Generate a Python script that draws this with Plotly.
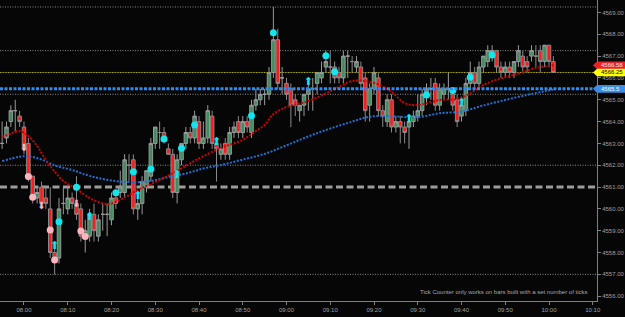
import pandas as pd
import plotly.graph_objects as go

DAY = "2024-01-02 "
first_bar = DAY + "07:55"

opens = [4563.0,4563.25,4564.0,4564.5,4564.25,4563.75,4563.0,4561.5,4560.5,4561.0,
         4560.5,4560.0,4558.0,4557.75,4560.25,4560.0,4560.5,4560.25,4560.0,4558.75,
         4558.75,4559.75,4558.75,4559.75,4559.75,4559.5,4560.5,4560.75,4560.75,4562.0,
         4562.25,4560.0,4560.25,4561.0,4561.5,4563.0,4563.5,4563.5,4562.75,4562.5,
         4560.75,4562.25,4563.0,4563.5,4563.25,4564.0,4563.0,4563.25,4564.25,4563.0,
         4562.5,4563.0,4562.5,4563.5,4564.0,4563.5,4564.0,4563.5,4564.75,4565.0,
         4565.25,4565.25,4566.25,4567.75,4566.0,4565.75,4565.5,4565.0,4564.5,4564.75,
         4565.25,4565.5,4565.75,4566.0,4566.5,4566.5,4566.5,4566.25,4566.0,4567.0,
         4566.75,4566.5,4566.5,4566.0,4564.75,4565.5,4566.0,4564.5,4564.0,4565.0,
         4563.75,4564.0,4563.75,4563.75,4564.0,4564.25,4564.5,4565.25,4565.5,4565.75,
         4564.75,4565.25,4565.5,4565.25,4565.0,4564.25,4564.5,4565.75,4566.25,4565.75,
         4566.5,4566.75,4567.0,4567.25,4566.5,4566.25,4566.5,4566.25,4566.75,4567.0,
         4566.75,4567.0,4567.0,4567.25,4566.75,4567.5,4566.75]
highs = [4564.0,4564.0,4564.75,4565.0,4564.5,4564.0,4563.25,4561.5,4561.0,4561.25,
         4561.0,4561.0,4558.25,4560.5,4561.0,4561.0,4560.75,4561.5,4560.25,4559.5,
         4560.0,4560.25,4559.75,4560.25,4560.25,4560.75,4560.75,4561.75,4562.5,4562.5,
         4562.5,4560.75,4561.5,4561.75,4563.25,4563.75,4564.0,4563.75,4563.0,4562.75,
         4562.5,4563.0,4563.75,4563.75,4564.5,4564.25,4564.0,4564.75,4564.5,4563.25,
         4563.0,4563.25,4563.75,4564.0,4564.25,4564.25,4564.25,4565.0,4565.5,4565.5,
         4565.5,4566.5,4569.25,4568.25,4566.5,4566.0,4565.75,4565.25,4564.75,4565.25,
         4565.75,4566.0,4566.25,4566.75,4567.25,4567.25,4566.75,4566.5,4567.25,4567.25,
         4567.0,4567.0,4566.75,4566.25,4565.75,4566.5,4566.25,4564.75,4565.25,4565.25,
         4564.25,4564.25,4564.0,4564.25,4564.5,4565.25,4565.5,4565.75,4566.0,4566.0,
         4565.75,4565.75,4566.25,4565.5,4565.25,4565.0,4566.0,4566.75,4566.5,4566.75,
         4567.0,4567.5,4567.5,4567.25,4566.75,4566.75,4566.75,4566.75,4567.5,4567.25,
         4567.0,4567.5,4567.5,4567.5,4567.5,4567.5,4567.0]
lows = [4562.75,4563.0,4563.75,4563.5,4563.75,4562.5,4561.25,4560.25,4560.25,4560.0,
        4560.0,4557.75,4557.0,4557.5,4559.75,4559.75,4560.0,4559.5,4558.5,4558.0,
        4558.5,4558.5,4558.5,4559.0,4558.75,4559.25,4560.0,4560.5,4560.5,4561.25,
        4559.75,4559.5,4559.75,4560.75,4561.25,4562.75,4562.75,4563.0,4562.5,4560.5,
        4560.25,4562.0,4562.75,4563.0,4563.0,4562.75,4562.75,4563.0,4562.75,4561.25,
        4562.25,4562.25,4562.25,4563.25,4563.25,4563.25,4563.5,4563.25,4564.5,4564.75,
        4564.75,4565.0,4566.0,4565.5,4565.25,4565.0,4563.75,4564.25,4564.0,4564.25,
        4564.5,4564.5,4565.25,4565.75,4566.25,4565.75,4565.75,4565.75,4565.75,4566.0,
        4566.25,4566.25,4565.5,4564.0,4564.0,4565.25,4564.25,4563.75,4563.75,4563.5,
        4563.5,4563.0,4563.0,4562.75,4563.75,4564.0,4564.25,4564.75,4565.0,4564.5,
        4564.5,4565.0,4565.0,4564.5,4563.75,4564.0,4564.25,4565.5,4565.5,4565.5,
        4566.25,4566.5,4566.75,4566.25,4566.0,4566.0,4566.0,4566.0,4566.5,4566.25,
        4566.25,4566.75,4566.5,4566.25,4566.5,4566.5,4566.25]
closes = [4563.0,4563.75,4564.5,4564.5,4564.0,4562.75,4561.5,4560.5,4560.75,4560.25,
          4560.25,4558.0,4557.75,4560.0,4560.25,4560.5,4560.25,4559.75,4558.75,4559.0,
          4559.75,4559.0,4559.5,4559.75,4559.75,4560.5,4560.25,4561.0,4562.25,4562.0,
          4560.0,4560.25,4561.25,4561.75,4563.0,4563.75,4563.5,4563.25,4562.5,4560.75,
          4562.25,4563.0,4563.5,4563.25,4564.25,4563.0,4563.25,4564.5,4563.0,4562.75,
          4562.75,4562.5,4563.5,4563.75,4563.5,4564.0,4563.75,4564.75,4565.0,4565.25,
          4565.25,4566.25,4567.75,4565.75,4566.0,4565.25,4564.75,4564.75,4564.75,4565.25,
          4565.5,4565.5,4566.25,4566.25,4566.75,4566.5,4566.0,4566.0,4567.0,4567.0,
          4566.75,4566.75,4565.75,4564.5,4565.5,4566.25,4564.5,4564.25,4565.0,4563.75,
          4564.0,4563.75,4563.5,4564.0,4564.25,4564.5,4565.25,4565.5,4565.5,4564.75,
          4565.5,4565.5,4565.5,4564.75,4564.0,4564.75,4565.75,4566.25,4565.75,4566.5,
          4567.0,4567.25,4567.25,4566.5,4566.25,4566.5,4566.25,4566.75,4567.25,4566.5,
          4566.5,4567.25,4567.0,4566.75,4567.5,4566.75,4566.25]

# moving averages
red_ma_times = ["07:55","07:57","07:59","08:01","08:03","08:05","08:07","08:09","08:12","08:15",
                "08:18","08:20","08:23","08:26","08:30","08:35","08:40","08:45","08:50","08:53",
                "08:55","08:57","09:00","09:05","09:10","09:15","09:18","09:21","09:24","09:27",
                "09:30","09:35","09:39","09:42","09:45","09:49","09:53","09:57","10:01"]
red_ma_vals = [4563.29,4563.45,4563.56,4563.34,4562.88,4562.24,4561.71,4561.28,4560.91,4560.50,
               4560.25,4560.25,4560.52,4560.87,4561.23,4561.74,4562.31,4562.79,4563.16,4563.57,
               4563.84,4564.35,4564.67,4564.94,4565.38,4565.86,4565.86,4565.70,4565.36,4564.85,
               4564.76,4564.99,4565.04,4565.29,4565.68,4565.98,4566.20,4566.46,4566.58]
blue_ma_times = ["07:55","07:59","08:01","08:04","08:07","08:11","08:15","08:20","08:25","08:29",
                 "08:33","08:37","08:41","08:45","08:50","08:55","09:00","09:05","09:10","09:15",
                 "09:18","09:21","09:25","09:30","09:35","09:40","09:45","09:50","09:55","09:59","10:01"]
blue_ma_vals = [4562.19,4562.39,4562.41,4562.26,4561.99,4561.78,4561.51,4561.30,4561.22,4561.28,
                4561.46,4561.62,4561.85,4562.01,4562.26,4562.52,4562.91,4563.32,4563.68,4564.00,
                4564.18,4564.26,4564.23,4564.20,4564.38,4564.46,4564.74,4564.99,4565.22,4565.39,4565.47]

cyan_dot_times = ["08:08","08:12","08:21","08:25","08:29","08:32","08:36","08:39","08:52","08:57",
                  "09:09","09:11","09:32","09:38","09:42","09:47"]
cyan_dot_vals = [4559.41,4560.99,4560.74,4561.70,4561.83,4563.20,4562.78,4563.84,4564.27,4568.07,
                 4567.02,4566.28,4565.22,4565.42,4566.03,4567.05]
pink_dot_times = ["08:01","08:02","08:06","08:07","08:13","08:14"]
pink_dot_vals = [4561.48,4560.53,4559.03,4557.66,4558.99,4558.73]
up_arrow_times = ["08:07","08:15","08:26","08:35","08:44","09:05","09:28","09:40"]
up_arrow_vals = [4558.30,4559.60,4560.56,4561.55,4563.04,4565.81,4564.11,4564.84]
down_arrow_times = ["08:00","08:04","08:12"]
down_arrow_vals = [4562.78,4560.10,4560.18]

gray_dotted_levels = [4569.25, 4567.25, 4565.25, 4562.0, 4557.0]
dashed_level = 4561.0
yellow_level = 4566.25
blue_level = 4565.5
tags = [("4566.58", 4566.58, "#e8232a", "#ffe8e8"),
        ("4566.25", 4566.25, "#ffff00", "#000000"),
        ("4565.5", 4565.5, "#3a8ee6", "#ffffff")]
note = "Tick Counter only works on bars built with a set number of ticks"

bar_times = pd.date_range(first_bar, periods=len(opens), freq="min")
T = lambda lst: [pd.Timestamp(DAY + t) for t in lst]

fig = go.Figure()
fig.add_trace(go.Candlestick(
    x=bar_times, open=opens, high=highs, low=lows, close=closes,
    increasing=dict(fillcolor="#3f8c5e", line=dict(color="#9a9a9a", width=1)),
    decreasing=dict(fillcolor="#ff1a1a", line=dict(color="#8a8a8a", width=1)),
    whiskerwidth=0, hoverinfo="skip", showlegend=False))
fig.add_trace(go.Scatter(x=T(blue_ma_times), y=blue_ma_vals, mode="lines",
    line=dict(color="#1f6fd6", width=2, dash="2px,1.5px", shape="spline"), showlegend=False))
fig.add_trace(go.Scatter(x=T(red_ma_times), y=red_ma_vals, mode="lines",
    line=dict(color="#d00000", width=2, dash="2px,1.5px", shape="spline"), showlegend=False))
fig.add_trace(go.Scatter(x=T(cyan_dot_times), y=cyan_dot_vals, mode="markers",
    marker=dict(color="#12e6ec", size=7, line=dict(width=0)), showlegend=False))
fig.add_trace(go.Scatter(x=T(pink_dot_times), y=pink_dot_vals, mode="markers",
    marker=dict(color="#ffb3bf", size=7, line=dict(width=0)), showlegend=False))
fig.add_trace(go.Scatter(x=T(up_arrow_times), y=up_arrow_vals, mode="text", text=["⬆"] * len(up_arrow_vals),
    textposition="middle center", textfont=dict(color="#12e6ec", size=11, family="DejaVu Sans"), showlegend=False))
fig.add_trace(go.Scatter(x=T(down_arrow_times), y=down_arrow_vals, mode="text", text=["⬇"] * len(down_arrow_vals),
    textposition="middle center", textfont=dict(color="#ffb3bf", size=10, family="DejaVu Sans"), showlegend=False))

shapes = []
for lv in gray_dotted_levels:
    shapes.append(dict(type="line", xref="paper", x0=0, x1=1, yref="y", y0=lv, y1=lv,
                       line=dict(color="#8a8a8a", width=1, dash="1px,1.5px"), layer="below"))
shapes.append(dict(type="line", xref="paper", x0=0, x1=1, yref="y", y0=dashed_level, y1=dashed_level,
                   line=dict(color="#9c9c9c", width=3, dash="7px,3.5px"), layer="below"))
shapes.append(dict(type="line", xref="paper", x0=0, x1=1, yref="y", y0=yellow_level, y1=yellow_level,
                   line=dict(color="#b5b300", width=1, dash="1px,0.6px"), layer="below"))
shapes.append(dict(type="line", xref="paper", x0=0, x1=1, yref="y", y0=blue_level, y1=blue_level,
                   line=dict(color="#2a8cf5", width=3, dash="3px,1.5px"), layer="above"))
annotations = []
for txt, val, bg, fg in tags:
    shapes.append(dict(type="path", xref="paper", xsizemode="pixel", xanchor=1,
                       yref="y", ysizemode="pixel", yanchor=val,
                       path="M -4 0 L 0 3.8 L 28 3.8 L 28 -3.8 L 0 -3.8 Z",
                       fillcolor=bg, line=dict(width=0), layer="above"))
    annotations.append(dict(xref="paper", x=1, xanchor="left", xshift=2, yref="y", y=val,
                            yanchor="middle", text=txt, showarrow=False,
                            font=dict(size=6, color=fg, family="Liberation Sans")))
annotations.append(dict(xref="paper", x=590 / 597, xanchor="right", yref="paper", y=0.03,
                        yanchor="middle", text=note, showarrow=False,
                        font=dict(size=6, color="#a8a8a8", family="Liberation Sans")))

fig.update_layout(
    width=625, height=317, margin=dict(l=0, r=28, t=0, b=16),
    paper_bgcolor="#060606", plot_bgcolor="#060606",
    boxgap=0.2, boxgroupgap=0,
    shapes=shapes, annotations=annotations, showlegend=False,
    font=dict(family="Liberation Sans", size=6, color="#a0a0a0"),
    xaxis=dict(type="date", range=[DAY + "07:54:31", DAY + "10:10:58"], tickformat="%H:%M",
               dtick=600000, tick0=DAY + "08:00", showgrid=False, zeroline=False,
               showline=True, linecolor="#808080", linewidth=1, ticks="outside", ticklen=3,
               tickcolor="#808080", tickfont=dict(size=6, color="#a0a0a0"),
               rangeslider=dict(visible=False), fixedrange=True),
    yaxis=dict(side="right", range=[4555.78, 4569.57], dtick=1, tick0=4556, tickformat=".2f",
               showgrid=False, zeroline=False, showline=True, linecolor="#808080", linewidth=1,
               ticks="outside", ticklen=3, tickcolor="#808080",
               tickfont=dict(size=6, color="#a0a0a0"), fixedrange=True),
)
fig.write_html("out.html")
